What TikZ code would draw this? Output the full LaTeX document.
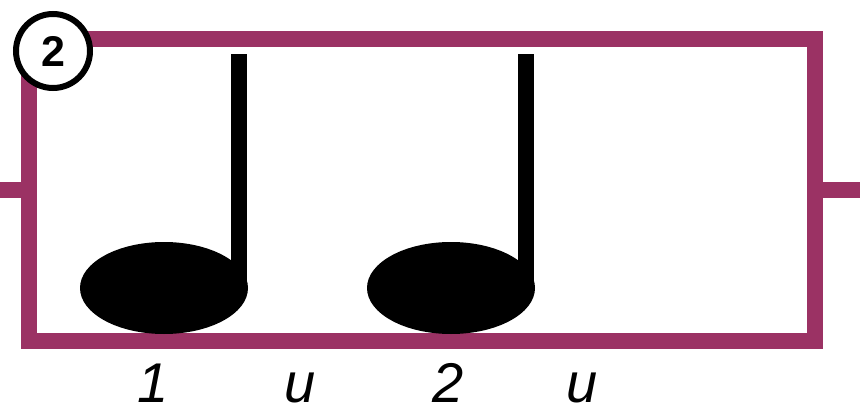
\documentclass[tikz,border=0pt]{standalone}
\usepackage{fontspec}
\setmainfont{Liberation Sans}
\usepackage{tikz}
\usetikzlibrary{positioning, shapes.geometric}
\definecolor{barcolor}{RGB}{155,50,100}
\tikzstyle{frame}    = [rectangle, minimum width=786pt, minimum height=302pt, inner sep=0pt, outer sep=0pt, draw=barcolor, line width=16pt]
\tikzstyle{barstub}  = [draw=barcolor, line width=16pt]
\tikzstyle{notehead} = [ellipse, minimum width=168pt, minimum height=92pt, inner sep=0pt, outer sep=0pt, fill=black]
\tikzstyle{stem}     = [draw=black, line width=16pt]
\tikzstyle{badge}    = [circle, minimum size=74pt, inner sep=0pt, draw=black, fill=white, line width=6pt, font=\fontsize{43pt}{43pt}\selectfont\bfseries]
\tikzstyle{count}    = [anchor=base, inner sep=0pt, font=\fontsize{56pt}{56pt}\selectfont\itshape]

\begin{document}
\begin{tikzpicture}[x=1pt, y=-1pt]
            \useasboundingbox (0,0) rectangle (865,409);
            \node[frame] (bar) at (422,190) {};
            \coordinate (inL)  at (0,190);
            \coordinate (outR) at (860,190);
            \draw[barstub] (inL) -- (bar.west);
            \draw[barstub] (bar.east) -- (outR);
            
            \node[badge] (num) at (53,51) {2};
            
            \node[notehead] (head1) at (164,288) {};
            \node[notehead] (head2) [right=119pt of head1] {};
            \draw[stem] ([xshift=-9pt]head1.east) -- ++(0,-234);
            \draw[stem] ([xshift=-9pt]head2.east) -- ++(0,-234);
            
            \node[count] (beat1) at (153,402) {1};
            \node[count] (and1)  at (300,402) {u};
            \node[count] (beat2) at (448,402) {2};
            \node[count] (and2)  at (582,402) {u};
        \end{tikzpicture}
\end{document}
